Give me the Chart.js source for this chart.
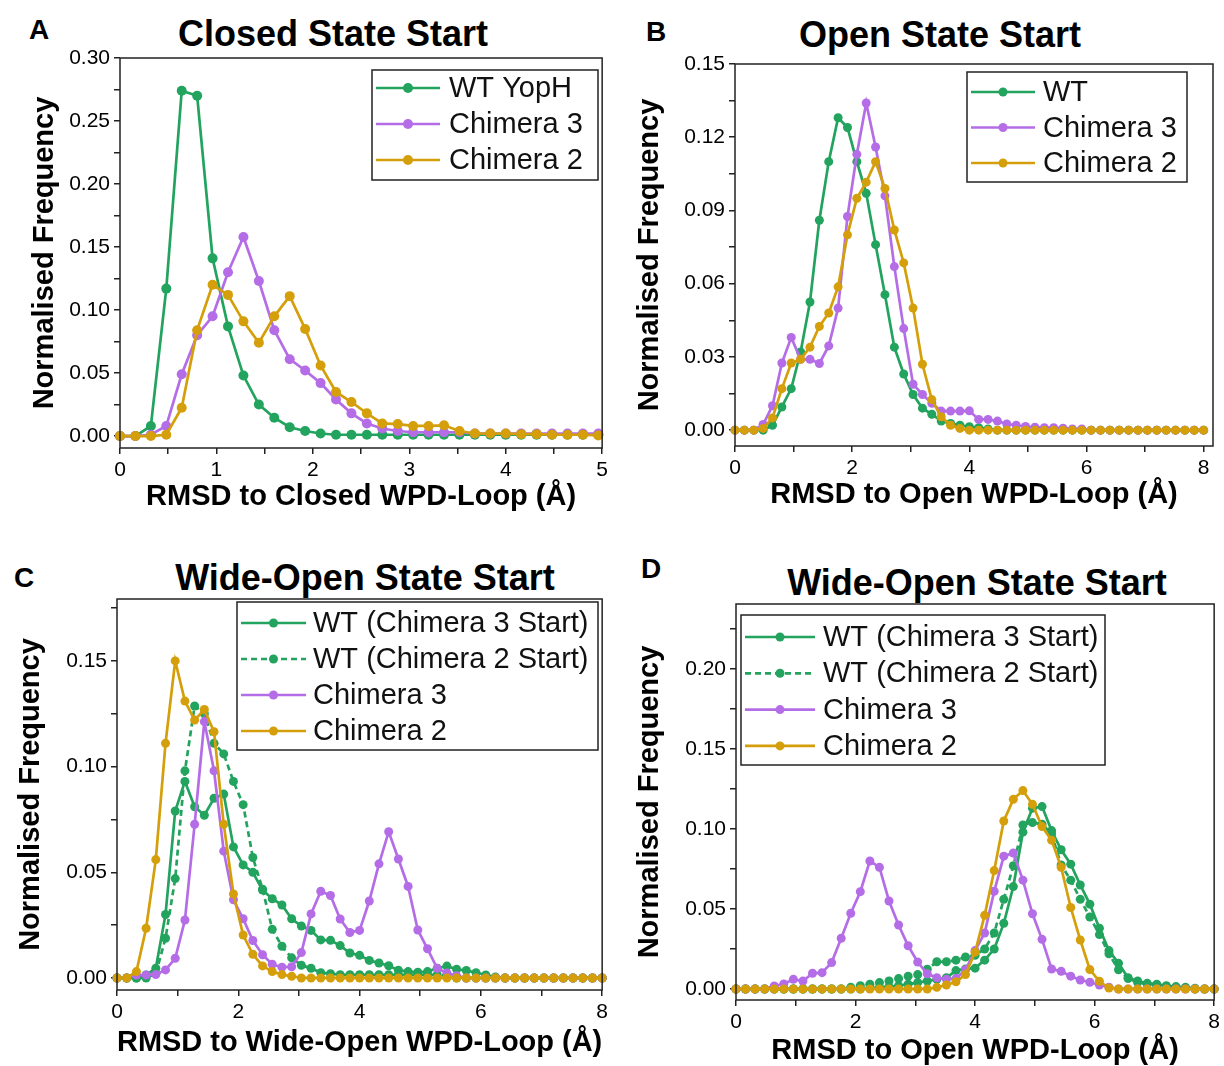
<!DOCTYPE html>
<html>
<head>
<meta charset="utf-8">
<script src="https://cdn.jsdelivr.net/npm/chart.js@4.4.0/dist/chart.umd.min.js"></script>
<style>
body{margin:0;width:1224px;height:1066px;position:relative;overflow:hidden;background:#fff;font-family:"Liberation Sans",Arial,sans-serif;color:#000}
canvas{position:absolute}
.lt{position:absolute;font-weight:bold;font-size:28px;line-height:1;transform:translate(-50%,-50%)}
.tt{position:absolute;font-weight:bold;font-size:36px;line-height:1;transform:translate(-50%,-50%);white-space:nowrap}
</style>
</head>
<body>
<div class="lt" style="left:39px;top:30px">A</div>
<div class="lt" style="left:656px;top:32px">B</div>
<div class="lt" style="left:24px;top:578px">C</div>
<div class="lt" style="left:651px;top:569px">D</div>
<div class="tt" style="left:333px;top:34px">Closed State Start</div>
<div class="tt" style="left:940px;top:35px">Open State Start</div>
<div class="tt" style="left:365px;top:578px">Wide-Open State Start</div>
<div class="tt" style="left:977px;top:583px">Wide-Open State Start</div>

<canvas id="cA" width="612" height="530" style="left:0;top:0"></canvas>
<canvas id="cB" width="612" height="530" style="left:612px;top:0"></canvas>
<canvas id="cC" width="612" height="526" style="left:0;top:540px"></canvas>
<canvas id="cD" width="612" height="530" style="left:612px;top:540px"></canvas>

<script>
const FONT = 'Liberation Sans';
const GREEN = '#22a35e', PURPLE = '#b46de6', GOLD = '#d49f0a';

// bin centres (RMSD, Å)
const binsA = [0, 0.16, 0.32, 0.48, 0.64, 0.80, 0.96, 1.12, 1.28, 1.44, 1.60, 1.76, 1.92, 2.08, 2.24, 2.40,
  2.56, 2.72, 2.88, 3.04, 3.20, 3.36, 3.52, 3.68, 3.84, 4.00, 4.16, 4.32, 4.48, 4.64, 4.80, 4.96];
const bins8 = [0, 0.16, 0.32, 0.48, 0.64, 0.80, 0.96, 1.12, 1.28, 1.44, 1.60, 1.76, 1.92, 2.08, 2.24, 2.40,
  2.56, 2.72, 2.88, 3.04, 3.20, 3.36, 3.52, 3.68, 3.84, 4.00, 4.16, 4.32, 4.48, 4.64, 4.80, 4.96,
  5.12, 5.28, 5.44, 5.60, 5.76, 5.92, 6.08, 6.24, 6.40, 6.56, 6.72, 6.88, 7.04, 7.20, 7.36, 7.52, 7.68, 7.84, 8.00];

// A - closed state start
const aWT = [0, 0, 0.008, 0.117, 0.274, 0.270, 0.141, 0.087, 0.048, 0.025, 0.0145, 0.007, 0.004, 0.002, 0.001, 0.001,
  0.001, 0.001, 0.001, 0.001, 0.001, 0.001, 0.001, 0.001, 0.001, 0.001, 0.001, 0.001, 0.001, 0.001, 0.001, 0.001];
const aCh3 = [0, 0, 0.001, 0.008, 0.049, 0.080, 0.095, 0.130, 0.158, 0.123, 0.084, 0.061, 0.052, 0.042, 0.029, 0.018,
  0.010, 0.006, 0.004, 0.003, 0.003, 0.003, 0.003, 0.002, 0.002, 0.002, 0.002, 0.002, 0.002, 0.002, 0.002, 0.002];
const aCh2 = [0, 0, 0, 0.001, 0.0225, 0.084, 0.120, 0.112, 0.091, 0.074, 0.095, 0.111, 0.085, 0.056, 0.035, 0.027,
  0.018, 0.010, 0.0095, 0.008, 0.008, 0.0085, 0.004, 0.002, 0.002, 0.002, 0.0015, 0.0015, 0.001, 0.001, 0.001, 0.0005];

// B - open state start
const bWT = [0, 0, 0, 0, 0.002, 0.0095, 0.017, 0.032, 0.0525, 0.086, 0.110, 0.128, 0.124, 0.110, 0.097, 0.076,
  0.0555, 0.034, 0.023, 0.0146, 0.009, 0.0065, 0.0037, 0.0027, 0.002, 0.0014, 0.001, 0.0005, 0, 0, 0, 0,
  0, 0, 0, 0, 0, 0, 0, 0, 0, 0, 0, 0, 0, 0, 0, 0, 0, 0, 0];
const bCh3 = [0, 0, 0, 0.0023, 0.010, 0.0275, 0.038, 0.029, 0.029, 0.0273, 0.0345, 0.050, 0.0875, 0.113, 0.134, 0.116,
  0.096, 0.067, 0.0416, 0.0188, 0.0146, 0.011, 0.0078, 0.0078, 0.0078, 0.0079, 0.0044, 0.0044, 0.0037, 0.0025, 0.002, 0.0015,
  0.0012, 0.001, 0.001, 0.0008, 0.0005, 0.0005, 0, 0, 0, 0, 0, 0, 0, 0, 0, 0, 0, 0, 0];
const bCh2 = [0, 0, 0, 0.0007, 0.005, 0.017, 0.0275, 0.029, 0.034, 0.0425, 0.048, 0.0587, 0.080, 0.095, 0.1016, 0.110,
  0.099, 0.082, 0.0685, 0.050, 0.027, 0.0125, 0.0055, 0.002, 0.0007, 0, 0, 0, 0, 0, 0, 0,
  0, 0, 0, 0, 0, 0, 0, 0, 0, 0, 0, 0, 0, 0, 0, 0, 0, 0, 0];

// C - wide-open state start
const cWT3 = [0, 0, 0, 0.0014, 0.0046, 0.030, 0.079, 0.093, 0.081, 0.077, 0.085, 0.087, 0.062, 0.0535, 0.050, 0.0416,
  0.0375, 0.0345, 0.028, 0.0246, 0.0225, 0.018, 0.0178, 0.0153, 0.0118, 0.0107, 0.0083, 0.0071, 0.0058, 0.0037, 0.003, 0.0027,
  0.003, 0.0046, 0.0056, 0.0041, 0.0035, 0.0025, 0.0014, 0.0005, 0, 0, 0, 0, 0, 0, 0, 0, 0, 0, 0];
const cWT2 = [0, 0, 0, 0, 0.002, 0.0188, 0.047, 0.098, 0.1287, 0.125, 0.111, 0.106, 0.093, 0.082, 0.057, 0.042,
  0.023, 0.015, 0.0095, 0.006, 0.0046, 0.0025, 0.002, 0.0015, 0.0015, 0.0015, 0.0015, 0.0015, 0.0015, 0.0015, 0.0015, 0.0015,
  0.0015, 0.0015, 0.001, 0, 0, 0, 0, 0, 0, 0, 0, 0, 0, 0, 0, 0, 0, 0, 0];
const cCh3 = [0, 0, 0.0014, 0.0014, 0.0016, 0.0038, 0.0093, 0.0274, 0.0727, 0.1213, 0.098, 0.060, 0.037, 0.028, 0.0177, 0.011,
  0.0065, 0.0051, 0.0053, 0.012, 0.0303, 0.041, 0.039, 0.0279, 0.0215, 0.0225, 0.0364, 0.054, 0.0692, 0.0563, 0.0433, 0.0227,
  0.0138, 0.0046, 0.0024, 0.001, 0, 0, 0, 0, 0, 0, 0, 0, 0, 0, 0, 0, 0, 0, 0];
const cCh2 = [0, 0, 0.003, 0.0235, 0.056, 0.111, 0.150, 0.131, 0.122, 0.127, 0.1165, 0.0727, 0.0397, 0.0203, 0.0112, 0.0057,
  0.003, 0.0016, 0.0008, 0, 0, 0, 0, 0, 0, 0, 0, 0, 0, 0, 0, 0,
  0, 0, 0, 0, 0, 0, 0, 0, 0, 0, 0, 0, 0, 0, 0, 0, 0, 0, 0];

// D - wide-open state start, RMSD to open loop
const dWT3 = [0, 0, 0, 0, 0, 0, 0, 0, 0, 0, 0, 0, 0, 0, 0.0005, 0.001,
  0.0015, 0.002, 0.003, 0.004, 0.005, 0.006, 0.007, 0.0115, 0.0125, 0.013, 0.018, 0.025, 0.041, 0.064, 0.098, 0.113,
  0.114, 0.099, 0.087, 0.078, 0.065, 0.053, 0.038, 0.024, 0.016, 0.007, 0.005, 0.0035, 0.003, 0.002, 0.0015, 0.001,
  0.0005, 0, 0];
const dWT2 = [0, 0, 0, 0, 0, 0, 0, 0, 0, 0, 0, 0, 0.001, 0.002, 0.003, 0.004,
  0.005, 0.0065, 0.008, 0.009, 0.0123, 0.017, 0.017, 0.018, 0.020, 0.021, 0.025, 0.035, 0.056, 0.077, 0.1025, 0.104,
  0.103, 0.097, 0.0775, 0.068, 0.056, 0.045, 0.034, 0.022, 0.012, 0.0065, 0.004, 0.003, 0.002, 0.0015, 0.001, 0.0005,
  0, 0, 0];
const dCh3 = [0, 0, 0, 0, 0.0019, 0.0031, 0.006, 0.005, 0.0098, 0.0102, 0.0165, 0.0317, 0.0473, 0.0608, 0.080, 0.076,
  0.055, 0.040, 0.027, 0.0168, 0.0095, 0.007, 0.006, 0.0065, 0.012, 0.024, 0.035, 0.061, 0.083, 0.085, 0.068, 0.047,
  0.031, 0.0125, 0.011, 0.008, 0.0056, 0.0042, 0.0025, 0.0011, 0, 0, 0, 0, 0, 0, 0, 0, 0, 0, 0];
const dCh2 = [0, 0, 0, 0, 0, 0, 0, 0, 0, 0, 0, 0, 0, 0, 0, 0,
  0, 0, 0, 0, 0, 0.001, 0.0025, 0.0045, 0.009, 0.023, 0.046, 0.074, 0.105, 0.1185, 0.124, 0.1154,
  0.1015, 0.093, 0.076, 0.0509, 0.0306, 0.0121, 0.0048, 0.0006, 0, 0, 0, 0, 0, 0, 0, 0, 0, 0, 0];

// major tick labels
const aXTicks = [0, 1, 2, 3, 4, 5];
const aYTicks = [0, 0.05, 0.10, 0.15, 0.20, 0.25, 0.30];
const bXTicks = [0, 2, 4, 6, 8];
const bYTicks = [0, 0.03, 0.06, 0.09, 0.12, 0.15];
const cXTicks = [0, 2, 4, 6, 8];
const cYTicks = [0, 0.05, 0.10, 0.15];
const dXTicks = [0, 2, 4, 6, 8];
const dYTicks = [0, 0.05, 0.10, 0.15, 0.20];

Chart.defaults.font.family = FONT;

// majors plus a minor tick half way between
function withMinors(major, lo, hi) {
  const step = (major[1] - major[0]) / 2;
  const out = [];
  for (let v = major[0]; v <= hi + 1e-9; v += step) {
    if (v >= lo - 1e-9) out.push(+v.toFixed(4));
  }
  return out;
}

function scale(min, max, major, digits, title, fit, titlePad) {
  const all = withMinors(major, min, max);
  return {
    type: 'linear', min: min, max: max,
    afterBuildTicks: s => { s.ticks = all.map(v => ({value: v})); },
    afterFit: s => { Object.assign(s, fit); },
    border: {display: false},
    grid: {drawOnChartArea: false, tickLength: 6, color: '#222', lineWidth: 1.5},
    ticks: {
      autoSkip: false, maxRotation: 0, padding: 4, color: '#000',
      font: {size: 21},
      callback: v => major.some(m => Math.abs(m - v) < 1e-6) ? v.toFixed(digits) : ''
    },
    title: {display: true, text: title, color: '#000', font: {size: 29, weight: 'bold'}, padding: titlePad}
  };
}

function ds(label, xs, ys, color, r, dash, n) {
  return {
    label: label,
    data: xs.map((x, i) => ({x: x, y: ys[i]})),
    borderColor: color, backgroundColor: color,
    pointBackgroundColor: color, pointBorderColor: color,
    pointRadius: r, pointBorderWidth: 0, pointHoverRadius: r,
    borderWidth: 2.7, borderDash: dash || [], tension: 0, clip: false, order: n
  };
}

// frame round the plot and the boxed legend
const boxFrame = {
  id: 'boxFrame',
  afterDraw(chart, args, opts) {
    const ctx = chart.ctx, a = chart.chartArea, L = opts;
    ctx.save();
    ctx.strokeStyle = '#222';
    ctx.lineWidth = 1.5;
    ctx.strokeRect(a.left, a.top, a.right - a.left, a.bottom - a.top);
    ctx.fillStyle = '#fff';
    ctx.fillRect(L.x, L.y, L.w, L.h);
    ctx.strokeRect(L.x, L.y, L.w, L.h);
    chart.data.datasets.forEach((d, k) => {
      const y = L.y + L.first + k * L.row;
      const x0 = L.x + 4;
      ctx.strokeStyle = d.borderColor;
      ctx.lineWidth = d.borderWidth;
      ctx.setLineDash(d.borderDash);
      ctx.beginPath();
      ctx.moveTo(x0, y);
      ctx.lineTo(x0 + L.line, y);
      ctx.stroke();
      ctx.setLineDash([]);
      ctx.fillStyle = d.pointBackgroundColor;
      ctx.beginPath();
      ctx.arc(x0 + L.line / 2, y, d.pointRadius, 0, 2 * Math.PI);
      ctx.fill();
      ctx.fillStyle = '#111';
      ctx.font = '29px "' + FONT + '"';
      ctx.textBaseline = 'middle';
      ctx.fillText(d.label, L.x + L.text, y + 1);
    });
    ctx.restore();
  }
};

function panel(id, datasets, xs, ys, pad, legend) {
  new Chart(document.getElementById(id), {
    type: 'line',
    data: {datasets: datasets},
    options: {
      responsive: false, animation: false, events: [],
      layout: {padding: pad, autoPadding: false},
      scales: {x: xs, y: ys},
      plugins: {legend: {display: false}, tooltip: {enabled: false}, boxFrame: legend}
    },
    plugins: [boxFrame]
  });
}

panel('cA', [
    ds('WT YopH', binsA, aWT, GREEN, 5, null, 3),
    ds('Chimera 3', binsA, aCh3, PURPLE, 5, null, 2),
    ds('Chimera 2', binsA, aCh2, GOLD, 5, null, 1)
  ],
  scale(0, 5, aXTicks, 0, 'RMSD to Closed WPD-Loop (Å)', {height: 70}, {top: 0, bottom: 4}),
  scale(-0.0095, 0.30, aYTicks, 2, 'Normalised Frequency', {width: 100}, {top: 8, bottom: 0}),
  {left: 20, top: 58, right: 4, bottom: 12},
  {x: 372, y: 70, w: 226, h: 110, first: 18, row: 36, line: 64, text: 77});

panel('cB', [
    ds('WT', bins8, bWT, GREEN, 4.5, null, 3),
    ds('Chimera 3', bins8, bCh3, PURPLE, 4.5, null, 2),
    ds('Chimera 2', bins8, bCh2, GOLD, 4.5, null, 1)
  ],
  scale(0, 8.16, bXTicks, 0, 'RMSD to Open WPD-Loop (Å)', {height: 70}, {top: 0, bottom: 4}),
  scale(-0.0065, 0.15, bYTicks, 2, 'Normalised Frequency', {width: 110}, {top: 8, bottom: 0}),
  {left: 13, top: 64, right: 11, bottom: 14},
  {x: 355, y: 72, w: 220, h: 110, first: 20, row: 35.5, line: 64, text: 76});

panel('cC', [
    ds('WT (Chimera 3 Start)', bins8, cWT3, GREEN, 4.5, null, 4),
    ds('WT (Chimera 2 Start)', bins8, cWT2, GREEN, 4.5, [6, 4], 3),
    ds('Chimera 3', bins8, cCh3, PURPLE, 4.5, null, 2),
    ds('Chimera 2', bins8, cCh2, GOLD, 4.5, null, 1)
  ],
  scale(0, 8, cXTicks, 0, 'RMSD to Wide-Open WPD-Loop (Å)', {height: 74}, {top: 0, bottom: 4}),
  scale(-0.0057, 0.1793, cYTicks, 2, 'Normalised Frequency', {width: 111}, {top: 8, bottom: 0}),
  {left: 6, top: 59, right: 8, bottom: 2},
  {x: 237, y: 62, w: 361, h: 148, first: 21, row: 36, line: 65, text: 76});

panel('cD', [
    ds('WT (Chimera 3 Start)', bins8, dWT3, GREEN, 4.5, null, 4),
    ds('WT (Chimera 2 Start)', bins8, dWT2, GREEN, 4.5, [6, 4], 3),
    ds('Chimera 3', bins8, dCh3, PURPLE, 4.5, null, 2),
    ds('Chimera 2', bins8, dCh2, GOLD, 4.5, null, 1)
  ],
  scale(0, 8, dXTicks, 0, 'RMSD to Open WPD-Loop (Å)', {height: 70}, {top: 0, bottom: 2}),
  scale(-0.0069, 0.2406, dYTicks, 2, 'Normalised Frequency', {width: 111}, {top: 8, bottom: 0}),
  {left: 13, top: 64, right: 3, bottom: 0},
  {x: 129, y: 75, w: 364, h: 150, first: 22, row: 36.3, line: 70, text: 82});
</script>
</body>
</html>
